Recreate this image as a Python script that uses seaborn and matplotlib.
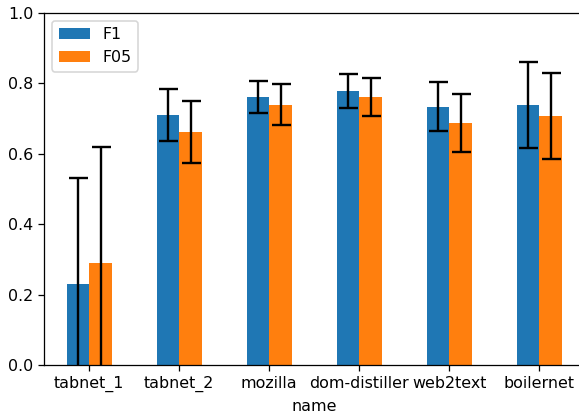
import numpy as np
import pandas as pd
import matplotlib
matplotlib.use("Agg")
import matplotlib.pyplot as plt
import seaborn as sns

# Extractor scores (mean and standard deviation per metric)
names = ["tabnet_1", "tabnet_2", "mozilla", "dom-distiller", "web2text", "boilernet"]
f1_mean = [0.23, 0.71, 0.761, 0.778, 0.734, 0.739]
f1_std = [0.30, 0.074, 0.045, 0.049, 0.070, 0.122]
f05_mean = [0.29, 0.662, 0.739, 0.761, 0.687, 0.707]
f05_std = [0.33, 0.087, 0.058, 0.054, 0.083, 0.123]
metrics = ["F1", "F05"]
colors = ["#1f77b4", "#ff7f0e"]

df = pd.DataFrame({
    "name": names * 2,
    "metric": [metrics[0]] * len(names) + [metrics[1]] * len(names),
    "score": f1_mean + f05_mean,
    "std": f1_std + f05_std,
})

DPI = 114
fig = plt.figure(figsize=(579 / DPI, 414 / DPI), dpi=DPI)
# the right edge of the axes runs just past the figure border
ax = fig.add_axes([44.3 / 579, 49 / 414, 540 / 579, 352 / 414])

sns.barplot(data=df, x="name", y="score", hue="metric", order=names,
            hue_order=metrics, palette=colors, width=0.5, dodge=True,
            errorbar=None, saturation=1, ax=ax)

# error bars placed on the centres of the drawn bars
for metric, container in zip(metrics, ax.containers):
    sub = df[df["metric"] == metric].set_index("name").loc[names]
    xs = [p.get_x() + p.get_width() / 2 for p in container.patches]
    ax.errorbar(xs, sub["score"].values, yerr=sub["std"].values, fmt="none",
                ecolor="black", elinewidth=1.5, capsize=6, capthick=1.5,
                zorder=5)

ax.set_xlim(-0.5, 5.5)
ax.set_ylim(0, 1.0)
ax.set_yticks(np.arange(0, 1.01, 0.2))
ax.set_xlabel("name")
ax.set_ylabel("")
ax.legend(loc="upper left")

fig.savefig("out.png", dpi=DPI)
